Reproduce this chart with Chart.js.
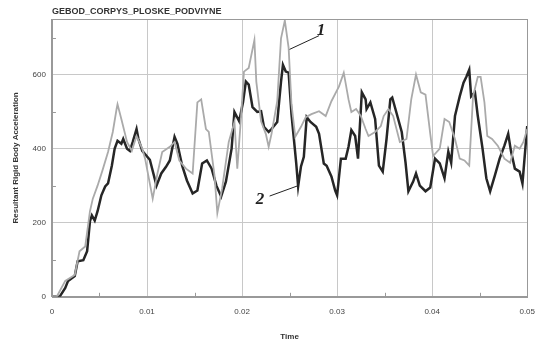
<!DOCTYPE html>
<html>
<head>
<meta charset="utf-8">
<script src="https://cdn.jsdelivr.net/npm/chart.js@4/dist/chart.umd.min.js"></script>
<style>
  html, body { margin: 0; padding: 0; background: #fff; }
  #wrap { width: 545px; height: 344px; }
</style>
</head>
<body>
<div id="wrap"><canvas id="chart"></canvas></div>
<script>
// curve 1 (light grey)
const time1 = [0, 0.0005, 0.0014, 0.0024, 0.0029, 0.0035, 0.0040, 0.0043, 0.0048, 0.0053, 0.0059, 0.0064, 0.0068, 0.0069,
  0.0073, 0.0079, 0.0084, 0.0089, 0.0095, 0.0098, 0.0106, 0.0111, 0.0116, 0.0124, 0.0129, 0.0134, 0.0141, 0.0148,
  0.0153, 0.0157, 0.0162, 0.0165, 0.0171, 0.0174, 0.0179, 0.0186, 0.0192, 0.0195, 0.0199, 0.0202, 0.0207, 0.0213,
  0.0215, 0.0220, 0.0225, 0.0228, 0.0231, 0.0237, 0.0241, 0.0245, 0.0249, 0.0252, 0.0256, 0.0262, 0.0267, 0.0273,
  0.0281, 0.0288, 0.0294, 0.0302, 0.0307, 0.0312, 0.0315, 0.0320, 0.0325, 0.0330, 0.0333, 0.0340, 0.0346, 0.0349,
  0.0354, 0.0359, 0.0366, 0.0373, 0.0378, 0.0383, 0.0388, 0.0393, 0.0398, 0.0401, 0.0408, 0.0413, 0.0418, 0.0424,
  0.0429, 0.0434, 0.0439, 0.0443, 0.0448, 0.0451, 0.0455, 0.0458, 0.0463, 0.0469, 0.0476, 0.0482, 0.0487, 0.0492,
  0.0496, 0.0500]
const accel1 = [0, 0, 43, 59, 123, 136, 231, 265, 300, 340, 391, 445, 507, 520,
  480, 418, 394, 434, 400, 373, 265, 333, 391, 405, 418, 368, 346, 333,
  525, 533, 453, 445, 328, 226, 292, 418, 472, 346, 488, 608, 618, 693,
  581, 474, 440, 405, 440, 528, 698, 746, 672, 520, 432, 459, 485, 493,
  501, 488, 528, 568, 605, 533, 499, 507, 488, 453, 434, 445, 461, 488,
  507, 488, 418, 426, 533, 600, 552, 546, 440, 380, 400, 480, 472, 426,
  373, 368, 354, 541, 594, 594, 525, 434, 426, 408, 373, 362, 408, 400,
  418, 453]

// curve 2 (black)
const time2 = [0, 0.0005, 0.0008, 0.0014, 0.0017, 0.0024, 0.0027, 0.0033, 0.0037, 0.0040, 0.0042, 0.0045, 0.0048,
  0.0052, 0.0056, 0.0059, 0.0063, 0.0066, 0.0069, 0.0073, 0.0075, 0.0079, 0.0082, 0.0085, 0.0089, 0.0091, 0.0095,
  0.0103, 0.0110, 0.0115, 0.0120, 0.0124, 0.0129, 0.0132, 0.0137, 0.0142, 0.0148, 0.0153, 0.0158, 0.0163, 0.0168,
  0.0173, 0.0178, 0.0183, 0.0189, 0.0192, 0.0197, 0.0201, 0.0204, 0.0207, 0.0211, 0.0216, 0.0220, 0.0223, 0.0228,
  0.0231, 0.0237, 0.0241, 0.0243, 0.0246, 0.0249, 0.0252, 0.0257, 0.0259, 0.0262, 0.0265, 0.0268, 0.0272, 0.0278,
  0.0281, 0.0286, 0.0289, 0.0294, 0.0298, 0.0300, 0.0304, 0.0309, 0.0312, 0.0315, 0.0319, 0.0322, 0.0326, 0.0330,
  0.0331, 0.0335, 0.0340, 0.0344, 0.0348, 0.0352, 0.0356, 0.0358, 0.0362, 0.0368, 0.0372, 0.0375, 0.0380, 0.0383,
  0.0387, 0.0393, 0.0398, 0.0403, 0.0408, 0.0413, 0.0417, 0.0420, 0.0424, 0.0429, 0.0433, 0.0436, 0.0439, 0.0441,
  0.0445, 0.0448, 0.0453, 0.0457, 0.0461, 0.0466, 0.0471, 0.0476, 0.0480, 0.0483, 0.0487, 0.0492, 0.0495, 0.0500]
const accel2 = [0, 0, 0, 24, 43, 56, 96, 99, 123, 204, 220, 206, 231,
  274, 298, 306, 354, 400, 421, 413, 426, 400, 394, 418, 453, 426, 394,
  370, 300, 333, 351, 368, 432, 413, 354, 314, 279, 287, 360, 368, 346,
  300, 271, 311, 400, 499, 474, 525, 581, 573, 512, 499, 501, 459, 445,
  453, 472, 581, 626, 608, 605, 493, 360, 298, 352, 378, 485, 472, 459,
  440, 360, 354, 325, 287, 274, 373, 373, 405, 450, 434, 373, 552, 533,
  507, 525, 480, 354, 338, 426, 533, 538, 501, 445, 362, 285, 311, 333,
  300, 285, 295, 373, 360, 320, 392, 362, 488, 541, 578, 594, 613, 541,
  552, 488, 400, 320, 285, 328, 373, 408, 440, 392, 346, 338, 306, 461]

const xTicks = [0, 0.01, 0.02, 0.03, 0.04, 0.05]
const yTicks = [0, 200, 400, 600]

const chartTitle = 'GEBOD_CORPYS_PLOSKE_PODVIYNE'
const xTitle = 'Time'
const yTitle = 'Resultant Rigid Body Acceleration'

// curve labels: text, label position, leader line (data units)
const curveLabels = [
  { text: '1', at: [0.0283, 718], from: [0.0281, 705], to: [0.0250, 668] },
  { text: '2', at: [0.0219, 262], from: [0.0229, 272], to: [0.0259, 300] },
]

const toPoints = (xs, ys) => xs.map((x, i) => ({ x: x, y: ys[i] }))

// title over the plot, frame, minor tick marks, curve numbers
const extras = {
  id: 'extras',
  afterDraw(chart) {
    const ctx = chart.ctx
    const area = chart.chartArea
    const xs = chart.scales.x
    const ys = chart.scales.y
    ctx.save()

    ctx.font = 'bold 9px "Liberation Sans", Arial, sans-serif'
    ctx.fillStyle = '#333'
    ctx.textBaseline = 'bottom'
    ctx.textAlign = 'left'
    ctx.fillText(chartTitle, area.left, area.top - 3)

    ctx.strokeStyle = '#999'
    ctx.lineWidth = 1
    ctx.strokeRect(Math.round(area.left) + 0.5, Math.round(area.top) + 0.5,
      Math.round(area.right - area.left), Math.round(area.bottom - area.top))

    for (let v = 0.005; v < 0.05; v += 0.01) {
      const px = Math.round(xs.getPixelForValue(v)) + 0.5
      ctx.beginPath()
      ctx.moveTo(px, area.bottom)
      ctx.lineTo(px, area.bottom - 4)
      ctx.stroke()
    }
    for (let v = 100; v < 750; v += 200) {
      const py = Math.round(ys.getPixelForValue(v)) + 0.5
      ctx.beginPath()
      ctx.moveTo(area.left, py)
      ctx.lineTo(area.left + 4, py)
      ctx.stroke()
    }

    ctx.strokeStyle = '#222'
    ctx.fillStyle = '#222'
    ctx.font = 'italic bold 17px "Liberation Serif", "DejaVu Serif", serif'
    ctx.textAlign = 'center'
    ctx.textBaseline = 'middle'
    curveLabels.forEach(l => {
      ctx.beginPath()
      ctx.moveTo(xs.getPixelForValue(l.from[0]), ys.getPixelForValue(l.from[1]))
      ctx.lineTo(xs.getPixelForValue(l.to[0]), ys.getPixelForValue(l.to[1]))
      ctx.stroke()
      ctx.fillText(l.text, xs.getPixelForValue(l.at[0]), ys.getPixelForValue(l.at[1]))
    })
    ctx.restore()
  }
}

new Chart(document.getElementById('chart'), {
  type: 'line',
  data: {
    datasets: [
      {
        label: '1',
        data: toPoints(time1, accel1),
        borderColor: '#aaaaaa',
        borderWidth: 1.8,
        pointRadius: 0,
        tension: 0,
      },
      {
        label: '2',
        data: toPoints(time2, accel2),
        borderColor: '#262626',
        borderWidth: 2.5,
        pointRadius: 0,
        tension: 0,
      },
    ],
  },
  options: {
    responsive: true,
    maintainAspectRatio: false,
    animation: false,
    layout: { padding: { left: 11, right: 15, top: 19, bottom: 2 } },
    plugins: {
      legend: { display: false },
      tooltip: { enabled: false },
    },
    scales: {
      x: {
        type: 'linear',
        min: 0,
        max: 0.05,
        afterBuildTicks: scale => { scale.ticks = xTicks.map(v => ({ value: v })) },
        ticks: {
          font: { size: 8, family: '"Liberation Sans", Arial, sans-serif' },
          color: '#444',
          maxRotation: 0,
          padding: 10,
          callback: v => String(v),
        },
        grid: { color: '#c8c8c8', drawTicks: false },
        border: { color: '#999' },
        title: {
          display: true,
          text: xTitle,
          font: { size: 8, weight: 'bold', family: '"Liberation Sans", Arial, sans-serif' },
          color: '#333',
          padding: { top: 6, bottom: 0 },
        },
      },
      y: {
        min: 0,
        max: 750,
        afterBuildTicks: scale => { scale.ticks = yTicks.map(v => ({ value: v })) },
        ticks: {
          font: { size: 8, family: '"Liberation Sans", Arial, sans-serif' },
          color: '#444',
          padding: 6,
        },
        grid: { color: '#c8c8c8', drawTicks: false },
        border: { color: '#999' },
        title: {
          display: true,
          text: yTitle,
          font: { size: 8, weight: 'bold', family: '"Liberation Sans", Arial, sans-serif' },
          color: '#333',
          padding: { top: 0, bottom: 6 },
        },
      },
    },
  },
  plugins: [extras],
})
</script>
</body>
</html>
